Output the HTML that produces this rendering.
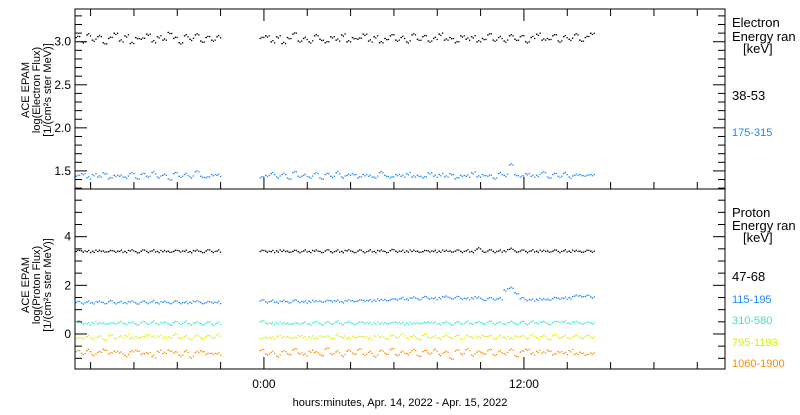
<!DOCTYPE html>
<html><head><meta charset="utf-8"><style>
body{margin:0;background:#fff;width:800px;height:410px;overflow:hidden}
svg{font-family:"Liberation Sans",sans-serif}
</style></head><body>
<svg id="c" width="800" height="410" xmlns="http://www.w3.org/2000/svg"></svg>
<script>
// time layout (hours relative to Apr 15 00:00)
const seg1Start=-8.7, seg2Start=-0.2, stepH=0.25;
const xTickHours=[-8,-6,-4,-2,0,2,4,6,8,10,12,14,16,18,20];
const xTickLabels=["0:00","12:00"];
const xLabelHours=[0,12];
const eTicks=[1.5,2.0,2.5,3.0];
const eTickLabels=["1.5","2.0","2.5","3.0"];
const pTicks=[0,2,4];
const pTickLabels=["0","2","4"];
// Electron 38-53
const e1a=[3.05,3.0,3.08,3.02,3.06,2.99,3.04,3.1,3.01,3.07,2.98,3.05,3.03,3.09,3.0,3.06,3.02,3.11,3.04,2.99,3.07,3.03,3.08,3.01,3.05,3.02,3.06];
const e1b=[3.04,3.07,3.0,3.06,2.98,3.05,3.09,3.01,3.04,3.0,3.07,3.03,2.99,3.06,3.02,3.08,3.0,3.05,3.03,3.09,3.01,3.06,2.99,3.04,3.07,3.02,3.05,3.0,3.08,3.03,3.06,3.01,3.04,3.09,3.02,3.05,2.99,3.07,3.03,3.06,3.0,3.04,3.08,3.02,3.05,3.01,3.07,3.03,3.06,3.0,3.05,3.09,3.02,3.04,3.07,3.01,3.06,3.03,3.08,3.02,3.05,3.1];
// Electron 175-315
const e2a=[1.44,1.47,1.42,1.46,1.43,1.48,1.41,1.45,1.44,1.43,1.47,1.42,1.46,1.44,1.48,1.43,1.45,1.41,1.47,1.44,1.46,1.43,1.49,1.44,1.42,1.46,1.45];
const e2b=[1.42,1.45,1.47,1.43,1.46,1.42,1.48,1.44,1.45,1.43,1.47,1.42,1.46,1.44,1.48,1.43,1.45,1.47,1.42,1.46,1.44,1.43,1.48,1.45,1.42,1.46,1.44,1.47,1.43,1.45,1.42,1.48,1.44,1.46,1.43,1.47,1.41,1.45,1.44,1.48,1.43,1.46,1.44,1.42,1.47,1.45,1.57,1.46,1.43,1.47,1.44,1.45,1.48,1.43,1.46,1.44,1.47,1.43,1.45,1.46,1.44,1.46];
// Proton 47-68
const p1a=[3.4,3.42,3.39,3.41,3.4,3.42,3.39,3.41,3.4,3.4,3.42,3.39,3.41,3.4,3.42,3.4,3.39,3.41,3.4,3.42,3.4,3.39,3.41,3.4,3.42,3.4,3.41];
const p1b=[3.4,3.41,3.39,3.42,3.4,3.41,3.4,3.39,3.42,3.4,3.41,3.4,3.42,3.39,3.41,3.4,3.42,3.4,3.41,3.39,3.42,3.4,3.41,3.4,3.43,3.41,3.4,3.42,3.4,3.41,3.39,3.42,3.4,3.41,3.4,3.42,3.41,3.4,3.42,3.4,3.5,3.41,3.42,3.4,3.41,3.43,3.48,3.42,3.41,3.4,3.42,3.41,3.4,3.42,3.41,3.4,3.42,3.41,3.4,3.41,3.4,3.41];
// Proton 115-195
const p2a=[1.3,1.28,1.32,1.29,1.31,1.3,1.33,1.29,1.31,1.3,1.32,1.28,1.31,1.3,1.33,1.29,1.31,1.3,1.32,1.3,1.29,1.31,1.33,1.3,1.29,1.31,1.3];
const p2b=[1.36,1.33,1.35,1.32,1.34,1.33,1.36,1.34,1.32,1.35,1.33,1.36,1.34,1.37,1.35,1.33,1.36,1.38,1.36,1.39,1.37,1.4,1.38,1.42,1.4,1.44,1.46,1.44,1.48,1.46,1.5,1.48,1.46,1.5,1.52,1.49,1.5,1.47,1.45,1.5,1.48,1.43,1.46,1.44,1.45,1.82,1.88,1.7,1.45,1.42,1.4,1.43,1.41,1.44,1.46,1.48,1.47,1.5,1.56,1.58,1.55,1.53];
// Proton 310-580
const p3a=[0.5,0.45,0.42,0.47,0.43,0.46,0.41,0.45,0.48,0.43,0.46,0.42,0.47,0.44,0.49,0.43,0.46,0.41,0.47,0.44,0.48,0.42,0.46,0.43,0.45,0.41,0.44];
const p3b=[0.5,0.46,0.43,0.47,0.42,0.45,0.41,0.44,0.46,0.42,0.48,0.43,0.46,0.44,0.49,0.42,0.47,0.44,0.45,0.48,0.43,0.46,0.41,0.47,0.44,0.49,0.43,0.46,0.42,0.47,0.44,0.5,0.45,0.43,0.47,0.42,0.46,0.44,0.48,0.43,0.47,0.45,0.49,0.44,0.46,0.42,0.48,0.45,0.47,0.43,0.5,0.46,0.48,0.44,0.47,0.52,0.49,0.45,0.48,0.46,0.44,0.46];
// Proton 795-1193
const p4a=[-0.2,-0.15,-0.1,-0.18,-0.12,-0.2,-0.08,-0.16,-0.12,-0.05,-0.18,-0.1,-0.14,-0.02,-0.12,-0.08,-0.17,-0.1,-0.05,-0.14,-0.11,-0.2,-0.08,-0.15,-0.1,-0.13,-0.04];
const p4b=[-0.2,-0.12,-0.17,-0.08,-0.14,-0.1,-0.18,-0.06,-0.15,-0.11,-0.19,-0.08,-0.13,-0.16,-0.05,-0.12,-0.18,-0.09,-0.14,-0.1,-0.2,-0.07,-0.13,-0.16,-0.08,-0.12,-0.03,-0.15,-0.1,-0.18,-0.06,-0.13,-0.11,-0.17,-0.08,-0.14,-0.1,-0.19,-0.07,-0.12,-0.15,-0.05,-0.11,-0.17,-0.09,-0.13,-0.2,-0.08,-0.12,-0.16,-0.06,-0.14,-0.1,-0.18,-0.07,-0.13,-0.11,-0.16,-0.08,-0.14,-0.1,-0.12];
// Proton 1060-1900
const p5a=[-0.72,-0.8,-0.68,-0.85,-0.75,-0.62,-0.82,-0.7,-0.78,-0.88,-0.73,-0.66,-0.84,-0.76,-0.92,-0.7,-0.8,-0.65,-0.78,-0.86,-0.72,-0.95,-0.76,-0.68,-0.84,-0.79,-0.82];
const p5b=[-0.68,-0.82,-0.75,-0.9,-0.72,-0.8,-0.65,-0.78,-0.86,-0.7,-0.76,-0.84,-0.62,-0.8,-0.73,-0.88,-0.7,-0.78,-0.66,-0.83,-0.75,-0.9,-0.7,-0.79,-0.64,-0.85,-0.74,-0.8,-0.68,-0.87,-0.72,-0.78,-0.66,-0.84,-0.75,-0.98,-0.7,-0.8,-0.64,-0.86,-0.74,-0.78,-0.68,-0.84,-0.72,-0.8,-0.66,-0.88,-0.74,-0.62,-0.82,-0.7,-0.78,-0.66,-0.86,-0.72,-0.8,-0.68,-0.84,-0.74,-0.88,-0.78];

const NS="http://www.w3.org/2000/svg";
const svg=document.getElementById('c');
const L=75,R=725,T1=9,B1=189,T2=189,B2=369;
const xs=h=>L+(h+8.72)*(R-L)/(21.28+8.72);
const ye=v=>T1+(3.38-v)*(B1-T1)/(3.38-1.29);
const yp=v=>T2+(5.96-v)*(B2-T2)/(5.96+1.44);
function el(tag,attrs,parent){const e=document.createElementNS(NS,tag);for(const k in attrs)e.setAttribute(k,attrs[k]);(parent||svg).appendChild(e);return e;}
function txt(s,x,y,attrs,parent){const e=el('text',Object.assign({x:x,y:y,'font-size':12,fill:'#000'},attrs),parent);e.textContent=s;return e;}

const f1=el('rect',{x:L,y:T1,width:R-L,height:B1-T1,fill:'none',stroke:'#000','stroke-width':1});


const f2=el('rect',{x:L,y:T2,width:R-L,height:B2-T2,fill:'none',stroke:'#000','stroke-width':1});



const gE=el('g',{});


for(let v=1.3;v<=3.36;v+=0.1){const y=ye(v);const major=Math.abs(v*2-Math.round(v*2))<0.01;el('line',{x1:L,x2:L+(major?12:7),y1:y,y2:y,stroke:'#000'},gE);el('line',{x1:R,x2:R-(major?12:7),y1:y,y2:y,stroke:'#000'},gE);}
eTicks.forEach((v,i)=>{const t=txt(eTickLabels[i],71,ye(v)+4,{'text-anchor':'end'},gE);});
const gP=el('g',{});


for(let v=-1;v<=5.6;v+=0.5){const y=yp(v);const major=Math.abs(v/2-Math.round(v/2))<0.01;el('line',{x1:L,x2:L+(major?12:7),y1:y,y2:y,stroke:'#000'},gP);el('line',{x1:R,x2:R-(major?12:7),y1:y,y2:y,stroke:'#000'},gP);}
pTicks.forEach((v,i)=>{const t=txt(pTickLabels[i],71,yp(v)+4,{'text-anchor':'end'},gP);});
const gX=el('g',{});


xTickHours.forEach(h=>{const x=xs(h);const major=h%12===0;el('line',{x1:x,x2:x,y1:B2,y2:B2-(major?12:7),stroke:'#000'},gX);el('line',{x1:x,x2:x,y1:B1,y2:B1-(major?12:7),stroke:'#000'},gX);el('line',{x1:x,x2:x,y1:T1,y2:T1+(major?12:7),stroke:'#000'},gX);});
xLabelHours.forEach((h,i)=>{const t=txt(xTickLabels[i],xs(h),388,{'text-anchor':'middle'},gX);});
const xt=txt('hours:minutes, Apr. 14, 2022 - Apr. 15, 2022',400,406,{'text-anchor':'middle','font-size':11});



function ytitle(lines,cy,name){const g=el('g',{transform:`translate(36,${cy}) rotate(-90)`});lines.forEach((s,i)=>txt(s,0,(i-1)*11+4,{'text-anchor':'middle','font-size':11},g));}
ytitle(['ACE EPAM','log(Electron Flux)','[1/(cm²s ster MeV)]'],90,'electron-y-axis-title');
ytitle(['ACE EPAM','log(Proton Flux)','[1/(cm²s ster MeV)]'],285,'proton-y-axis-title');

function series(a,b,yf,color,name){const g=el('g',{fill:color});
 [[a,seg1Start],[b,seg2Start]].forEach(([arr,s])=>arr.forEach((v,i)=>{const x=xs(s+i*stepH);const y=yf(v);
 el('rect',{x:x.toFixed(1),y:(y-0.5).toFixed(1),width:1.6,height:1.3},g);
 el('rect',{x:(x+1.8).toFixed(1),y:(y+((i%2)?1:-1)*1.2-0.5).toFixed(1),width:1.3,height:1.3},g);
 el('rect',{x:(x+3.6).toFixed(1),y:(y+((i%3)-1)*1.0-0.5).toFixed(1),width:1.3,height:1.3},g);}));}
series(e1a,e1b,ye,'#000','series-electron-38-53');
series(e2a,e2b,ye,'#1e88ff','series-electron-175-315');
series(p1a,p1b,yp,'#000','series-proton-47-68');
series(p2a,p2b,yp,'#1e88ff','series-proton-115-195');
series(p3a,p3b,yp,'#30e8c8','series-proton-310-580');
series(p4a,p4b,yp,'#d8f000','series-proton-795-1193');
series(p5a,p5b,yp,'#ff8c00','series-proton-1060-1900');

function legend(items,name){const g=el('g',{});items.forEach(([s,x,y,c,fs])=>txt(s,x,y,{fill:c,'font-size':fs},g));}
legend([['Electron',732,27,'#000',13],['Energy ran',732,41,'#000',13],['[keV]',743,53,'#000',13],['38-53',732,100,'#000',13],['175-315',732,136,'#1e88ff',11]],'electron-legend');
legend([['Proton',732,217,'#000',13],['Energy ran',732,230,'#000',13],['[keV]',743,242,'#000',13],['47-68',732,281,'#000',13],['115-195',732,303,'#1e88ff',11],['310-580',732,324,'#30e8c8',11],['795-1193',732,346,'#d8f000',11],['1060-1900',732,367,'#ff8c00',11]],'proton-legend');
</script>
</body></html>
